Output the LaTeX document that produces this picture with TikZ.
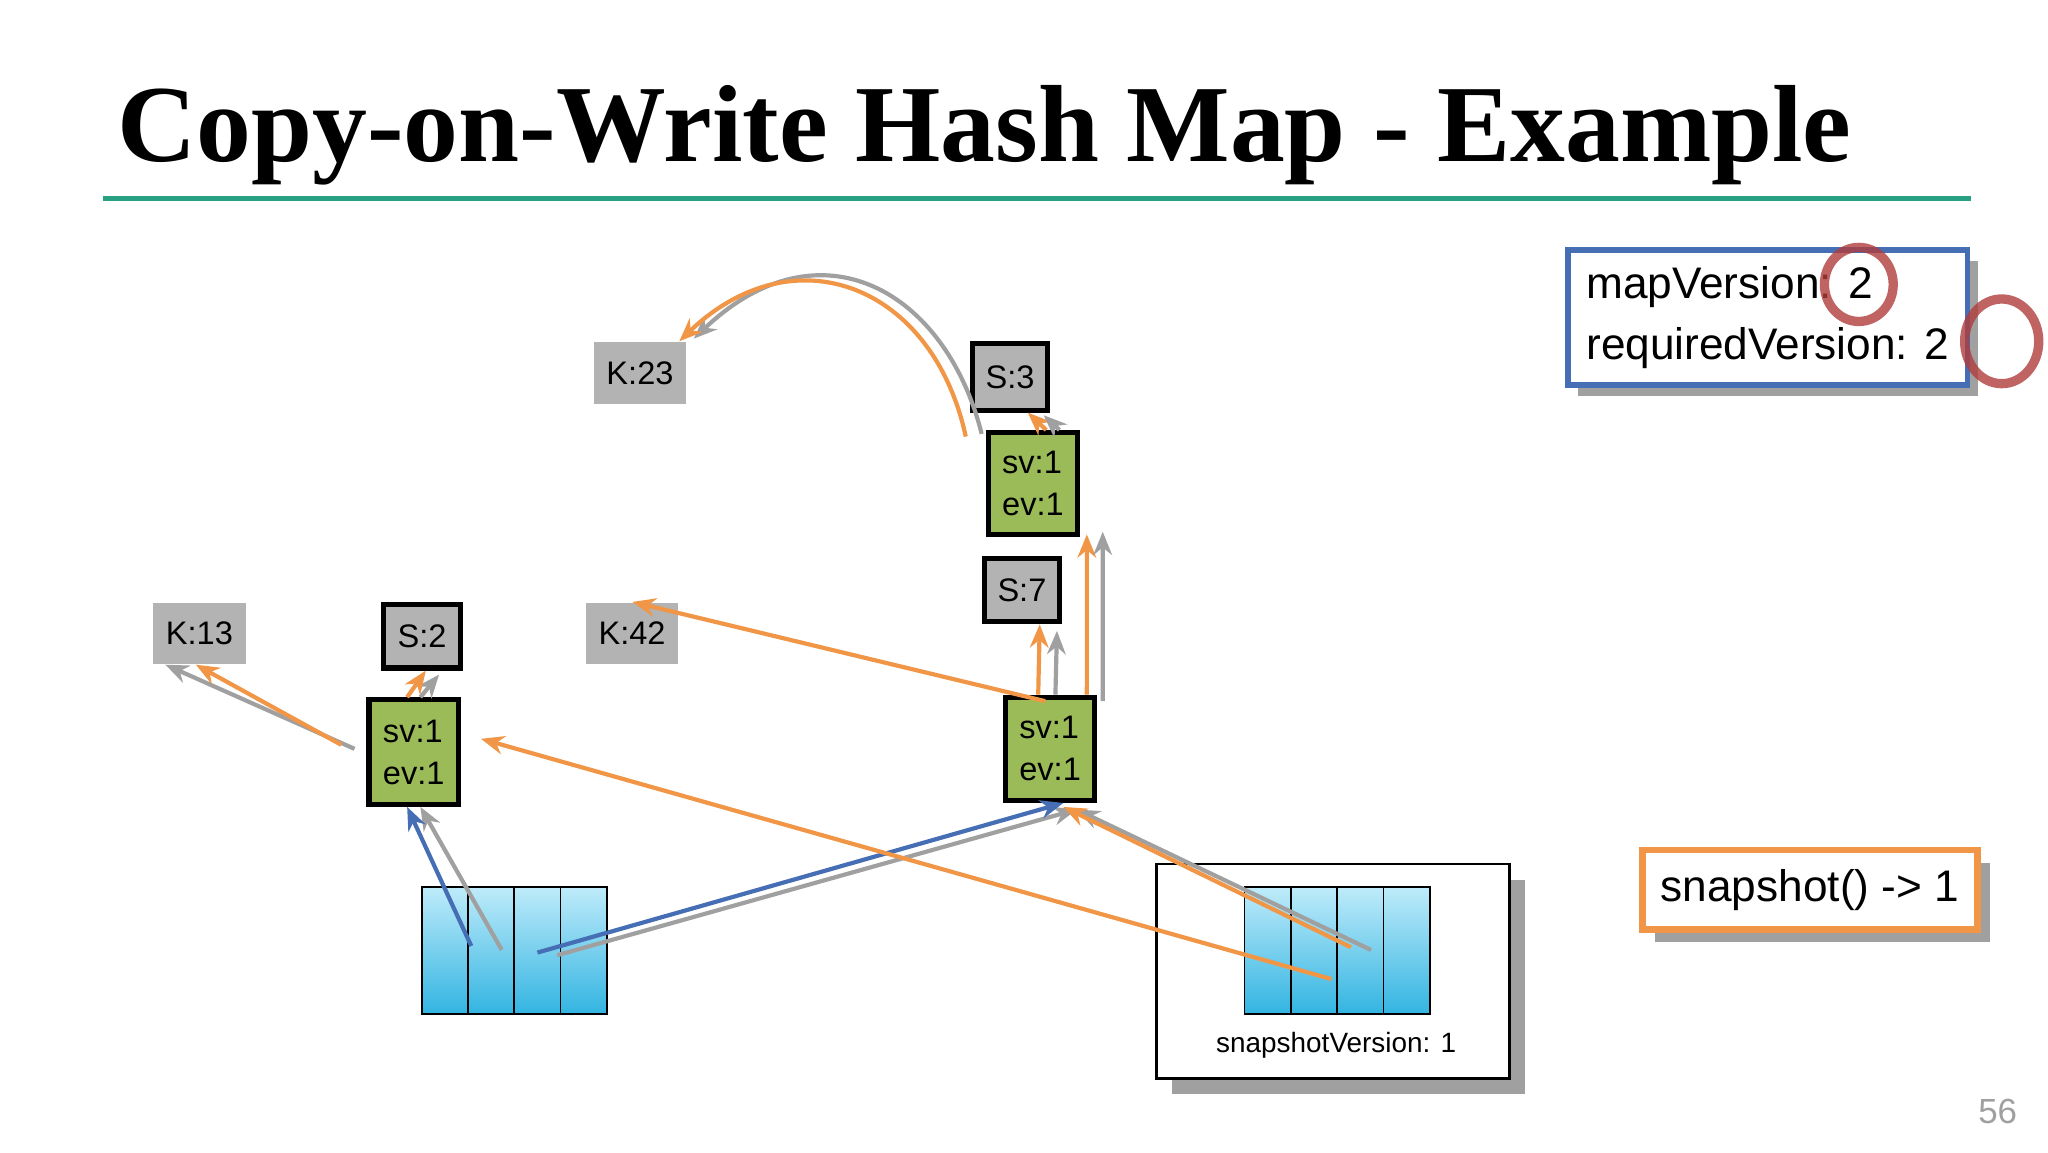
\documentclass[tikz,border=0pt]{standalone}
\usepackage{fontspec}
\setmainfont{Liberation Sans}
\newfontfamily\titlefont{Liberation Serif}
\usetikzlibrary{arrows.meta}
\definecolor{grn}{RGB}{155,187,89}
\definecolor{org}{RGB}{240,150,70}
\definecolor{gry}{RGB}{160,160,160}
\definecolor{blu}{RGB}{70,110,180}
\definecolor{teal}{RGB}{40,160,130}
\definecolor{redc}{RGB}{175,60,60}
\definecolor{cyanA}{RGB}{190,235,250}
\definecolor{cyanB}{RGB}{50,180,225}
\begin{document}
\begin{tikzpicture}[x=0.01cm,y=-0.01cm,
  lbl/.style={font=\fontsize{7}{8}\selectfont,inner sep=0pt,anchor=north west},
  key/.style={lbl,fill=gry!80,align=center},
  ver/.style={lbl,fill=gry!80,draw=black,line width=1.1pt,align=center},
  ent/.style={lbl,fill=grn,draw=black,line width=1.1pt,align=left},
  cell/.style={draw=black,line width=0.4pt,top color=cyanA,bottom color=cyanB,minimum width=0.35cm,minimum height=0.96cm,inner sep=0pt,anchor=north west},
  ar/.style={line width=0.9pt,-{Stealth[length=5pt,width=4pt]}},
  oa/.style={ar,draw=org},
  ga/.style={ar,draw=gry},
  ba/.style={ar,draw=blu}]
\useasboundingbox (0,0) rectangle (1548,871);
% title
\node[anchor=base west,inner sep=0pt] (title) at (88,122)
  {\resizebox{13.1cm}{!}{\titlefont\bfseries Copy-on-Write Hash Map - Example}};
\draw[teal,line width=1.2pt] (78,150) -- (1490,150);
% keys and versions
\node[key,minimum width=0.7cm,minimum height=0.47cm] (k23) at (448,258) {K:23};
\node[ver,minimum width=0.57cm,minimum height=0.5cm] (s3) at (733,258) {S:3};
\node[ent,minimum width=0.66cm,minimum height=0.77cm,inner xsep=3pt] (e1) at (745,325) {sv:1\\[1pt]ev:1};
\node[ver,minimum width=0.57cm,minimum height=0.48cm] (s7) at (742,420) {S:7};
\node[key,minimum width=0.7cm,minimum height=0.46cm] (k13) at (115,455) {K:13};
\node[ver,minimum width=0.58cm,minimum height=0.48cm] (s2) at (288,455) {S:2};
\node[key,minimum width=0.7cm,minimum height=0.46cm] (k42) at (442,455) {K:42};
\node[ent,minimum width=0.66cm,minimum height=0.79cm,inner xsep=3pt] (el) at (277,527) {sv:1\\[1pt]ev:1};
\node[ent,minimum width=0.66cm,minimum height=0.78cm,inner xsep=3pt] (er) at (758,525) {sv:1\\[1pt]ev:1};
% arrays
\foreach \i in {0,1,2,3}{
  \node[cell] (a\i) at (318+35*\i,670) {};
}
\fill[gry] (886,665) rectangle (1153,827);
\draw[fill=white,line width=0.6pt] (874,653) rectangle (1141,815);
\foreach \i in {0,1,2,3}{
  \node[cell] (b\i) at (940+35*\i,670) {};
}
\node[font=\fontsize{6}{7}\selectfont] (sv) at (1010,790) {snapshotVersion: 1};
% info boxes
\fill[gry] (1193,197) rectangle (1495,299);
\node[draw=blu,line width=1.2pt,fill=white,anchor=north west,minimum width=3.02cm,minimum height=1.02cm,align=left,inner xsep=3pt,font=\fontsize{9.5}{13}\selectfont] (mv) at (1183,187) {mapVersion: 2\\requiredVersion: 2};
\draw[redc,line width=2pt,opacity=0.8] (1405,215) circle [x radius=26,y radius=28];
\draw[redc,line width=2pt,opacity=0.8] (1513,258) circle [x radius=28,y radius=32];
\fill[gry] (1251,652) rectangle (1504,712);
\node[draw=org,line width=1.4pt,fill=white,anchor=north west,minimum width=2.53cm,minimum height=0.6cm,inner sep=2pt,font=\fontsize{9.5}{11}\selectfont] (snap) at (1239,640) {snapshot() -> 1};
\node[text=gry,font=\fontsize{7.5}{9}\selectfont] (pg) at (1510,840) {56};
% connectors
\draw[ga] ([xshift=0.08cm,yshift=-0.48cm]a1.north) -- ([xshift=0.05cm]el.south);
\draw[ba] ([xshift=-0.15cm,yshift=-0.45cm]a1.north) -- ([xshift=-0.05cm]el.south);
\draw[ga] ([xshift=0.15cm,yshift=-0.52cm]a2.north) -- ([xshift=0.2cm,yshift=-0.05cm]er.south);
\draw[ba] ([xshift=0cm,yshift=-0.5cm]a2.north) -- ([xshift=0.1cm]er.south);
\draw[ga] ([xshift=-0.09cm,yshift=-0.39cm]el.north west) -- ([xshift=0.1cm]k13.south west);
\draw[oa] ([xshift=-0.19cm,yshift=-0.36cm]el.north west) -- ([xshift=0.33cm]k13.south west);
\draw[ga] ([xshift=0.05cm]el.north) -- ([xshift=-0.18cm,yshift=-0.03cm]s2.south east);
\draw[oa] ([xshift=-0.05cm]el.north) -- ([xshift=-0.28cm]s2.south east);
\draw[oa] ([xshift=0.13cm,yshift=-0.7cm]b1.north) -- ([xshift=0.15cm,yshift=0.1cm]el.east);
\draw[ga] ([xshift=0.08cm,yshift=-0.48cm]b2.north) -- ([xshift=0.2cm,yshift=-0.05cm]er.south);
\draw[oa] ([xshift=-0.07cm,yshift=-0.46cm]b2.north) -- ([xshift=0.1cm,yshift=-0.03cm]er.south);
\draw[oa] ([xshift=0.32cm,yshift=-0.05cm]er.north west) -- ([xshift=0.36cm]k42.north west);
\draw[oa] ([xshift=-0.09cm]er.north) -- ([xshift=-0.17cm]s7.south east);
\draw[ga] ([xshift=0.04cm]er.north) -- ([xshift=-0.04cm,yshift=-0.05cm]s7.south east);
\draw[oa] ([xshift=-0.08cm]er.north east) -- ([xshift=0.05cm,yshift=0.02cm]e1.south east);
\draw[ga] ([xshift=0.04cm,yshift=-0.05cm]er.north east) -- ([xshift=0.17cm,yshift=0.04cm]e1.south east);
\draw[oa] ([xshift=0.1cm]e1.north) -- ([xshift=-0.17cm]s3.south east);
\draw[ga] ([xshift=0.2cm]e1.north) -- ([xshift=-0.05cm,yshift=-0.02cm]s3.south east);
\draw[ga] ([xshift=-0.03cm,yshift=-0.03cm]e1.north west) .. controls (715,220) and (620,165) .. ([xshift=0.05cm,yshift=0.02cm]k23.north east);
\draw[oa] ([xshift=-0.15cm,yshift=-0.05cm]e1.north west) .. controls (705,215) and (600,175) .. ([xshift=-0.06cm]k23.north east);
\end{tikzpicture}
\end{document}
